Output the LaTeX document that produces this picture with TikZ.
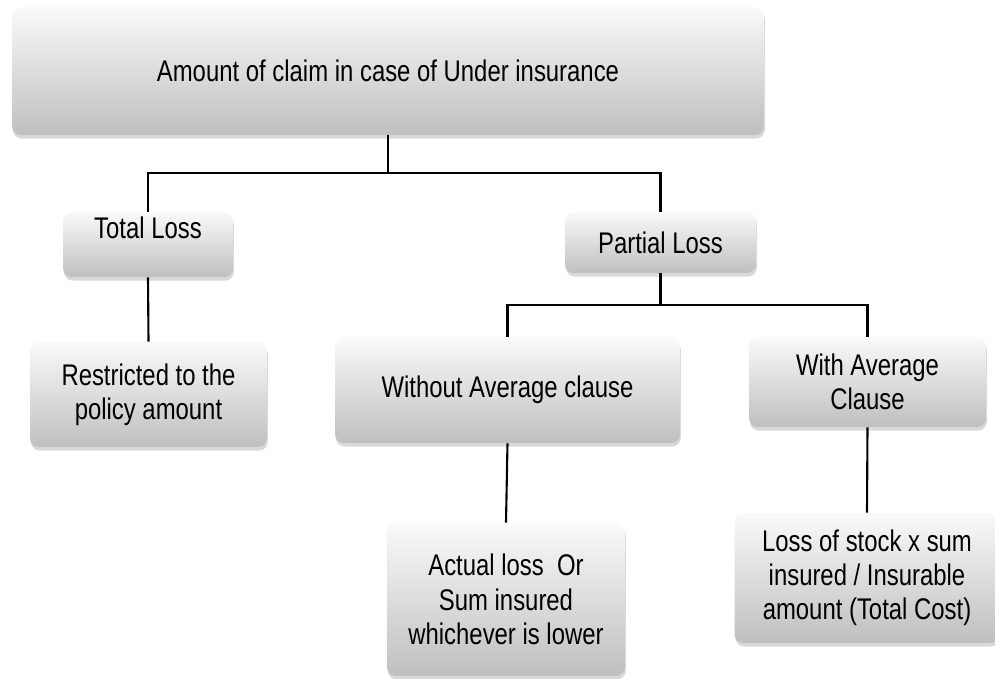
\documentclass[tikz,border=0pt]{standalone}
\usepackage{fontspec}
\setmainfont{Liberation Sans}[FakeStretch=0.8]
\usepackage{xcolor}
\usepackage{tikz}
\usetikzlibrary{shadows}

\tikzset{
  box/.style={rectangle, rounded corners=5pt, inner sep=0pt, align=center,
    top color=black!2, bottom color=black!25,
    drop shadow={shadow xshift=0.5pt, shadow yshift=-2pt, opacity=.3},
    font=\fontsize{17}{19.5}\selectfont},
  link/.style={line width=1.2pt, black}
}

\begin{document}
\begin{tikzpicture}[x=0.02cm, y=-0.02cm]
\useasboundingbox (0,0) rectangle (995,679);
%\draw[help lines] (0,0) grid[step=50] (995,679);
\path (0,0)
(388,71) node(top) [box, minimum width=15.04cm, minimum height=2.56cm] {Amount of claim in case of Under insurance}
(148,244.5) node(total) [box, minimum width=3.4cm, minimum height=1.3cm] {Total Loss\\ \mbox{}}
(660.5,242.5) node(partial) [box, minimum width=3.82cm, minimum height=1.22cm] {Partial Loss}
(148.5,394.5) node(restr) [box, minimum width=4.74cm, minimum height=2.1cm] {Restricted to the\\policy amount}
(507.5,390) node(without) [box, minimum width=6.9cm, minimum height=2.12cm] {Without Average clause}
(867.5,382) node(with) [box, minimum width=4.74cm, minimum height=1.8cm] {With Average\\Clause}
(506,599.5) node(actual) [box, minimum width=4.76cm, minimum height=3.06cm] {Actual loss~ Or\\Sum insured\\whichever is lower}
(867,578) node(stock) [box, minimum width=5.3cm, minimum height=2.6cm] {Loss of stock x sum\\insured / Insurable\\amount (Total Cost)};

\coordinate (split1) at (388,173);
\coordinate (split2) at (660.5,305);

\draw[link] (top.south) -- (split1);
\draw[link] (split1) -| (total.north);
\draw[link] (split1) -| (partial.north);
\draw[link] (total.south) -- (restr.north);
\draw[link] (partial.south) -- (split2);
\draw[link] (split2) -| (without.north);
\draw[link] (split2) -| (with.north);
\draw[link] (without.south) -- (actual.north);
\draw[link] (with.south) -- (stock.north);
\end{tikzpicture}
\end{document}
